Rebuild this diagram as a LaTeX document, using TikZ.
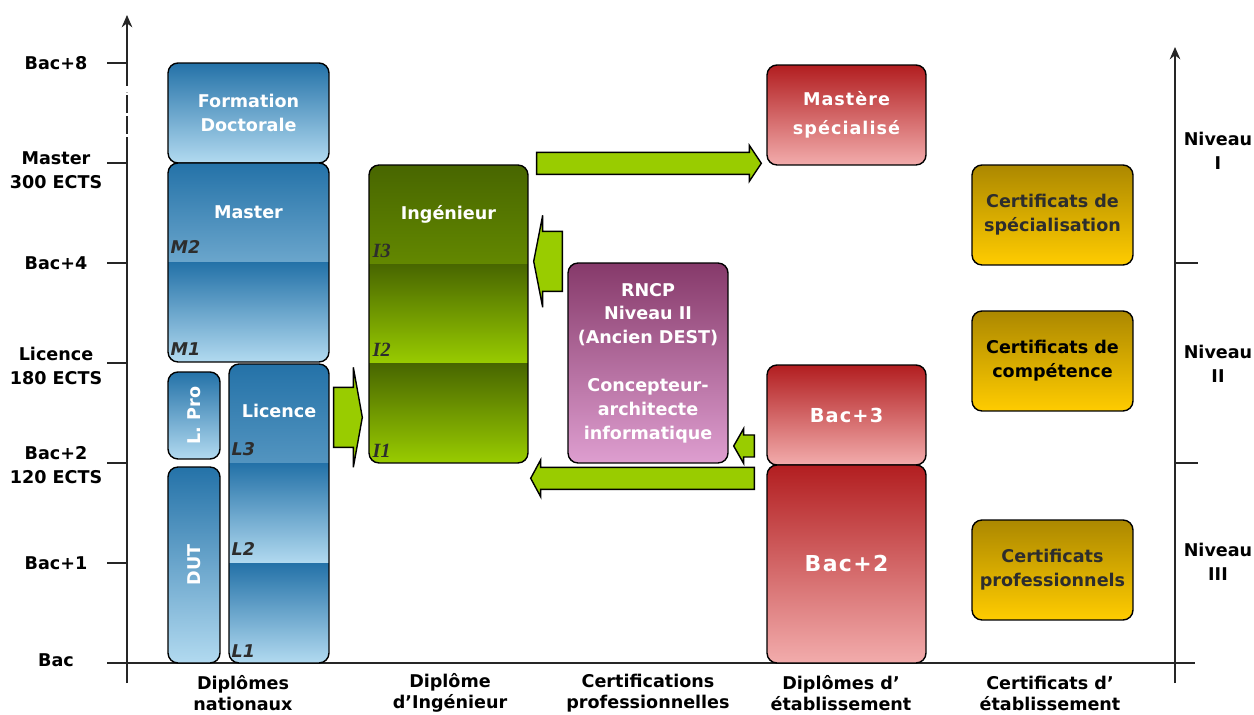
\documentclass[tikz,border=0pt]{standalone}
\usepackage{fontspec}
\setmainfont{DejaVu Sans}
\newfontfamily\serifit{Liberation Serif}
\newfontfamily\spaced[LetterSpace=6]{DejaVu Sans}
\usetikzlibrary{calc,arrows.meta}

\definecolor{bluetop}{RGB}{36,114,168}
\definecolor{bluebot}{RGB}{178,218,240}
\definecolor{greentop}{RGB}{72,102,0}
\definecolor{greenbot}{RGB}{153,204,0}
\definecolor{purptop}{RGB}{134,58,106}
\definecolor{purpbot}{RGB}{222,158,208}
\definecolor{redtop}{RGB}{178,30,32}
\definecolor{redbot}{RGB}{242,172,172}
\definecolor{yeltop}{RGB}{172,136,0}
\definecolor{yelbot}{RGB}{255,204,0}
\definecolor{arrowgreen}{RGB}{153,204,0}
\definecolor{textdark}{RGB}{45,45,45}

\begin{document}
\begin{tikzpicture}[x=0.02cm, y=-0.02cm,
	box/.style={draw=black, line width=0.8pt, rounded corners=0.2cm, inner sep=0pt, align=center, text=white, font=\bfseries\fontsize{10}{13.6}\selectfont},
	bands/.style n args={3}{path picture={
		\foreach \k in {1,...,#1}{
			\pgfmathsetmacro\ta{(\k-1)/#1}
			\pgfmathsetmacro\tb{\k/#1}
			\shade[sharp corners, top color=#2, bottom color=#3] ($(path picture bounding box.north west)!\ta!(path picture bounding box.south west)$) rectangle ($(path picture bounding box.north east)!\tb!(path picture bounding box.south east)$);
		}}},
	boxtext/.style={text=white, font=\bfseries\fontsize{10}{13.6}\selectfont},
	year/.style={anchor=west, inner sep=0pt, text=textdark, font=\bfseries\itshape\fontsize{10}{12}\selectfont},
	engyear/.style={year, font=\serifit\bfseries\itshape\fontsize{11.5}{12}\selectfont},
	axislabel/.style={align=center, text=black, font=\bfseries\fontsize{10}{13.6}\selectfont},
	collabel/.style={axislabel, font=\bfseries\fontsize{10}{12}\selectfont},
	axis/.style={line width=1.1pt, black!85},
	greenarrow/.style={draw=black, line width=0.8pt, fill=arrowgreen},
	fat/.style n args={3}{to path={
		($(\tikztotarget)!#3!(\tikztostart)$) coordinate (hb)
		($(\tikztostart)!#1!90:(\tikztotarget)$) -- ($(hb)!#1!90:(\tikztotarget)$) -- ($(hb)!#2!90:(\tikztotarget)$) -- (\tikztotarget) -- ($(hb)!#2!-90:(\tikztotarget)$) -- ($(hb)!#1!-90:(\tikztotarget)$) -- ($(\tikztostart)!#1!-90:(\tikztotarget)$) -- cycle}},
]

	\path[use as bounding box, fill=white] (0,0) rectangle (1254,715);

	\coordinate (lbot) at (127,683);

	\coordinate (dashlo) at (127,155);

	\coordinate (dashhi) at (127,92);

	\coordinate (ltop) at (127,15);

	\coordinate (rbot) at (1175,683);

	\coordinate (rtop) at (1175,47);

	\draw[axis] (lbot) -- (dashlo);

	\draw[axis, dash pattern=on 0.36cm off 0.06cm] (dashlo) -- (dashhi);

	\draw[axis, -{Stealth[length=7pt, width=6pt]}] (127,86) -- (ltop);

	\draw[axis, -{Stealth[length=7pt, width=6pt]}] (rbot) -- (rtop);

	\draw[axis] (107,663) -- (1195,663);

	\draw[axis] (107,63) -- (127,63);

	\draw[axis] (107,163) -- (127,163);

	\draw[axis] (107,263) -- (127,263);

	\draw[axis] (107,363) -- (127,363);

	\draw[axis] (107,463) -- (127,463);

	\draw[axis] (107,563) -- (127,563);

	\draw[axis] (1175,263) -- (1198,263);

	\draw[axis] (1175,463) -- (1198,463);

	\node[axislabel] (bac8) at (56,63) {Bac+8};

	\node[axislabel] (master300) at (56,170) {Master\\300 ECTS};

	\node[axislabel] (bac4) at (56,263) {Bac+4};

	\node[axislabel] (lic180) at (56,366) {Licence\\180 ECTS};

	\node[axislabel] (bac2ects) at (56,465) {Bac+2\\120 ECTS};

	\node[axislabel] (bac1) at (56,563) {Bac+1};

	\node[axislabel] (bac) at (56,660) {Bac};

	\node[axislabel] (niv1) at (1218,151) {Niveau\\I};

	\node[axislabel] (niv2) at (1218,364) {Niveau\\II};

	\node[axislabel] (niv3) at (1218,562) {Niveau\\III};

	\node[collabel] (colnat) at (243,693) {Diplômes\\nationaux};

	\node[collabel] (coling) at (450,693) {Diplôme\\d'Ingénieur};

	\node[collabel] (colcert) at (648,693) {Certifications\\professionnelles};

	\node[collabel] (coletab) at (841,693) {Diplômes d'\\établissement};

	\node[collabel] (colcertetab) at (1050,693) {Certificats d'\\établissement};

	\node[box, minimum width=3.22cm, minimum height=2cm, top color=bluetop, bottom color=bluebot] (doc) at (248.5,113) {Formation\\Doctorale};

	\node[box, bands={2}{bluetop}{bluebot}, minimum width=3.22cm, minimum height=3.98cm] (master) at (248.5,262.5) {};

	\node[boxtext] (mastert) at ($(master.north)+(0,50)$) {Master};

	\node[year] (m2) at ($(master.north west)+(3,85)$) {M2};

	\node[year] (m1) at ($(master.south west)+(3,-14)$) {M1};

	\node[box, minimum width=1.04cm, minimum height=1.74cm, top color=bluetop, bottom color=bluebot] (lpro) at (194,415.5) {};

	\node[boxtext, rotate=90] (lprot) at (lpro.center) {L. Pro};

	\node[box, minimum width=1.04cm, minimum height=3.92cm, top color=bluetop, bottom color=bluebot] (dut) at (194,565) {};

	\node[boxtext, rotate=90] (dutt) at (dut.center) {DUT};

	\node[box, bands={3}{bluetop}{bluebot}, minimum width=2cm, minimum height=5.98cm] (lic) at (279,513.5) {};

	\node[boxtext] (lict) at ($(lic.north)+(0,48)$) {Licence};

	\node[year] (l3) at ($(lic.north west)+(3,86)$) {L3};

	\node[year] (l2) at ($(lic.north west)+(3,186)$) {L2};

	\node[year] (l1) at ($(lic.south west)+(3,-13)$) {L1};

	\node[box, bands={3}{greentop}{greenbot}, minimum width=3.18cm, minimum height=5.96cm] (ing) at (448.5,314) {};

	\node[boxtext] (ingt) at ($(ing.north)+(0,50)$) {Ingénieur};

	\node[engyear] (i3) at ($(ing.north west)+(4,87)$) {I3};

	\node[engyear] (i2) at ($(ing.north west)+(4,185)$) {I2};

	\node[engyear] (i1) at ($(ing.south west)+(4,-13)$) {I1};

	\node[box, minimum width=3.2cm, minimum height=4cm, top color=purptop, bottom color=purpbot] (rncp) at (648,363) {RNCP\\Niveau II\\(Ancien DEST)\\[13.6pt]Concepteur-\\architecte\\informatique};

	\node[box, minimum width=3.18cm, minimum height=2cm, top color=redtop, bottom color=redbot, font=\spaced\bfseries\fontsize{10}{16.4}\selectfont] (ms) at (846.5,115) {Mastère\\spécialisé};

	\node[box, minimum width=3.18cm, minimum height=2cm, top color=redtop, bottom color=redbot, font=\spaced\bfseries\fontsize{11}{13}\selectfont] (b3) at (846.5,415) {Bac+3};

	\node[box, minimum width=3.18cm, minimum height=3.96cm, top color=redtop, bottom color=redbot, font=\spaced\bfseries\fontsize{12.5}{15}\selectfont] (b2) at (846.5,564) {Bac+2};

	\node[box, minimum width=3.22cm, minimum height=2cm, top color=yeltop, bottom color=yelbot, text=textdark] (cspe) at (1052.5,215) {Certificats de\\spécialisation};

	\node[box, minimum width=3.22cm, minimum height=2cm, top color=yeltop, bottom color=yelbot, text=black] (ccomp) at (1052.5,361) {Certificats de\\compétence};

	\node[box, minimum width=3.22cm, minimum height=2cm, top color=yeltop, bottom color=yelbot, text=textdark] (cpro) at (1052.5,570) {Certificats\\professionnels};

	\coordinate (a1s) at ($(lic.north east)+(4,54)$);

	\coordinate (a1t) at ($(ing.west |- a1s)+(-6,0)$);

	\coordinate (a2s) at ($(ing.north east)+(8,-1)$);

	\coordinate (a2t) at ($(ms.west |- a2s)+(-5,0)$);

	\coordinate (a3s) at ($(rncp.north west)+(-5,-1)$);

	\coordinate (a3t) at ($(ing.east |- a3s)+(5,0)$);

	\coordinate (a4s) at ($(b3.west)+(-12,31)$);

	\coordinate (a4t) at ($(rncp.east |- a4s)+(5,0)$);

	\coordinate (a5s) at ($(b2.north west)+(-12,14)$);

	\coordinate (a5t) at ($(ing.east |- a5s)+(2,0)$);

	\draw[greenarrow] (a1s) to[fat={0.6cm}{1cm}{0.18cm}] (a1t);

	\draw[greenarrow] (a2s) to[fat={0.22cm}{0.36cm}{0.24cm}] (a2t);

	\draw[greenarrow] (a3s) to[fat={0.6cm}{0.92cm}{0.18cm}] (a3t);

	\draw[greenarrow] (a4s) to[fat={0.22cm}{0.35cm}{0.2cm}] (a4t);

	\draw[greenarrow] (a5s) to[fat={0.22cm}{0.37cm}{0.2cm}] (a5t);

\end{tikzpicture}
\end{document}
